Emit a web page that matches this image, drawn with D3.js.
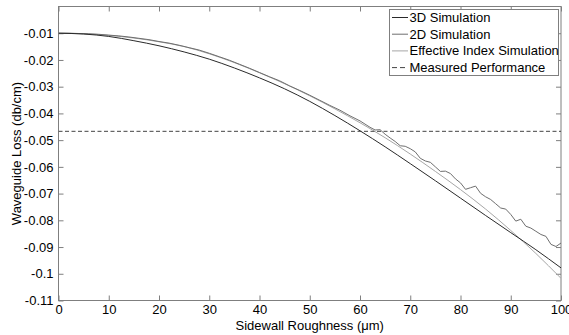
<!DOCTYPE html>
<html><head><meta charset="utf-8">
<script src="https://cdn.jsdelivr.net/npm/d3@7/dist/d3.min.js"></script>
<style>body{margin:0;background:#fff}svg{display:block}text{font-family:"Liberation Sans",Arial,sans-serif}</style>
</head><body><svg id="c" width="569" height="335"></svg>
<script>
const xTicks = [0,10,20,30,40,50,60,70,80,90,100];
const yTicks = [-0.11,-0.1,-0.09,-0.08,-0.07,-0.06,-0.05,-0.04,-0.03,-0.02,-0.01];
const yTickLabels = ["-0.11","-0.1","-0.09","-0.08","-0.07","-0.06","-0.05","-0.04","-0.03","-0.02","-0.01"];
const seriesNames = ["3D Simulation","2D Simulation","Effective Index Simulation","Measured Performance"];

const xSmooth = [0,5,10,15,20,25,30,35,40,45,50,55,60,65,70,75,80,85,90,95,100];
const sim3D = [-0.0100,-0.0103,-0.0112,-0.0128,-0.0147,-0.0170,-0.0197,-0.0230,-0.0267,-0.0308,-0.0355,-0.0408,-0.0465,-0.0525,-0.0588,-0.0652,-0.0717,-0.0782,-0.0846,-0.0910,-0.0978];
const simEff = [-0.0100,-0.0102,-0.0108,-0.0118,-0.0132,-0.0150,-0.0177,-0.0210,-0.0248,-0.0289,-0.0334,-0.0383,-0.0435,-0.0491,-0.0552,-0.0617,-0.0685,-0.0758,-0.0838,-0.0924,-0.1017];

const x2D = [0,2,4,6,8,10,12,14,16,18,20,22,24,26,28,30,32,34,36,38,40,42,44,46,48,50,52,54,56,58,60,61,62,63,64,65,66,67,68,69,70,71,72,73,74,75,76,77,78,79,80,81,82,83,84,85,86,87,88,89,90,91,92,93,94,95,96,97,98,99,100];
const sim2D = [-0.0100,-0.0100,-0.0101,-0.0102,-0.0104,-0.0107,-0.0110,-0.0114,-0.0119,-0.0124,-0.0131,-0.0137,-0.0145,-0.0154,-0.0163,-0.0175,-0.0188,-0.0201,-0.0216,-0.0231,-0.0247,-0.0263,-0.0278,-0.0297,-0.0314,-0.0332,-0.0351,-0.0370,-0.0388,-0.0409,-0.0428,-0.0440,-0.0452,-0.0462,-0.0461,-0.0478,-0.0492,-0.0505,-0.0521,-0.0523,-0.0532,-0.0544,-0.0568,-0.0578,-0.0583,-0.0600,-0.0617,-0.0616,-0.0625,-0.0645,-0.0660,-0.0684,-0.0678,-0.0672,-0.0699,-0.0712,-0.0722,-0.0738,-0.0754,-0.0758,-0.0778,-0.0803,-0.0796,-0.0822,-0.0829,-0.0841,-0.0853,-0.0860,-0.0890,-0.0898,-0.0885];

const measured = -0.0467;

const svg = d3.select("#c");
const L=58.5, R=561, T=6.5, B=300.5;
const x = d3.scaleLinear().domain([0,100]).range([L,R]);
const y = d3.scaleLinear().domain([-0.11,0]).range([B,T]);
const axisCol = "#7f7f7f";

// box
svg.append("rect").attr("x",L).attr("y",T).attr("width",R-L).attr("height",B-T)
  .attr("fill","none").attr("stroke",axisCol).attr("stroke-width",1);

const fs = 13;
const gx = svg.append("g").attr("transform",`translate(0,${B})`)
  .call(d3.axisBottom(x).tickValues(xTicks).tickSize(-5).tickPadding(4).tickFormat(d3.format("d")));
const gxt = svg.append("g").attr("transform",`translate(0,${T})`)
  .call(d3.axisTop(x).tickValues(xTicks).tickSize(-5).tickFormat(""));
const gy = svg.append("g").attr("transform",`translate(${L},0)`)
  .call(d3.axisLeft(y).tickValues(yTicks).tickSize(-5).tickPadding(5).tickFormat((d,i)=>yTickLabels[i]));
const gyr = svg.append("g").attr("transform",`translate(${R},0)`)
  .call(d3.axisRight(y).tickValues(yTicks).tickSize(-5).tickFormat(""));
[gx,gxt,gy,gyr].forEach(g=>{
  g.select(".domain").remove();
  g.selectAll(".tick line").attr("stroke",axisCol);
  g.selectAll("text").attr("fill","#000").attr("font-size",fs).attr("font-family","'Liberation Sans',Arial,sans-serif");
});

// clip
svg.append("clipPath").attr("id","clp").append("rect").attr("x",L).attr("y",T).attr("width",R-L).attr("height",B-T);
const plot = svg.append("g").attr("clip-path","url(#clp)");

const lineS = d3.line().x(d=>x(d[0])).y(d=>y(d[1])).curve(d3.curveMonotoneX);
const lineL = d3.line().x(d=>x(d[0])).y(d=>y(d[1]));

plot.append("path").datum(xSmooth.map((v,i)=>[v,simEff[i]])).attr("d",lineS)
  .attr("fill","none").attr("stroke","#a6a6a6").attr("stroke-width",1);
plot.append("path").datum(x2D.map((v,i)=>[v,sim2D[i]])).attr("d",lineL)
  .attr("fill","none").attr("stroke","#6e6e6e").attr("stroke-width",1);
plot.append("path").datum(xSmooth.map((v,i)=>[v,sim3D[i]])).attr("d",lineS)
  .attr("fill","none").attr("stroke","#2a2a2a").attr("stroke-width",1);
plot.append("line").attr("x1",x(0)).attr("x2",x(100)).attr("y1",y(measured)).attr("y2",y(measured))
  .attr("stroke","#444").attr("stroke-width",1).attr("stroke-dasharray","4,2.5");

// axis labels
svg.append("text").attr("x",(L+R)/2).attr("y",329.5).attr("text-anchor","middle").attr("font-size",fs)
  .text("Sidewall Roughness (\u03bcm)");
svg.append("text").attr("transform",`translate(21,${(T+B)/2}) rotate(-90)`).attr("text-anchor","middle").attr("font-size",fs)
  .text("Waveguide Loss (db/cm)");

// legend
const lg = svg.append("g");
lg.append("rect").attr("x",389.5).attr("y",9.5).attr("width",169).attr("height",66)
  .attr("fill","#fff").attr("stroke",axisCol).attr("stroke-width",1);
const legStyles = [
  {c:"#2a2a2a",d:null},{c:"#6e6e6e",d:null},{c:"#a6a6a6",d:null},{c:"#444",d:"5,3"}
];
seriesNames.forEach((n,i)=>{
  const yy = 17.5 + i*16.7;
  lg.append("line").attr("x1",392).attr("x2",408).attr("y1",yy).attr("y2",yy)
    .attr("stroke",legStyles[i].c).attr("stroke-width",1).attr("stroke-dasharray",legStyles[i].d);
  lg.append("text").attr("x",409.5).attr("y",yy+4.5).attr("font-size",fs).text(n);
});
</script></body></html>
